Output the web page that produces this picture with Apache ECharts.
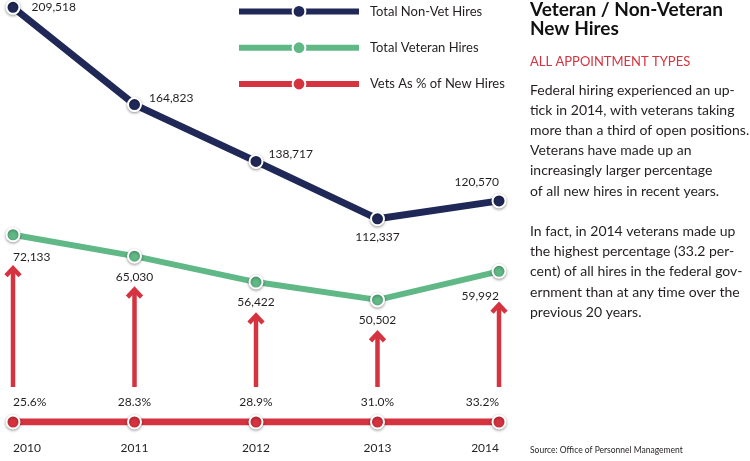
<!DOCTYPE html>
<html><head><meta charset="utf-8">
<script src="https://cdn.jsdelivr.net/npm/echarts@6/dist/echarts.min.js"></script>
<style>html,body{margin:0;padding:0;background:#fff}#c{width:750px;height:461px}</style>
</head><body><div id="c"></div>
<script>
const years = ['2010', '2011', '2012', '2013', '2014'];
const nonVetHires = [209518, 164823, 138717, 112337, 120570];
const vetHires = [72133, 65030, 56422, 50502, 59992];
const vetPct = [25.6, 28.3, 28.9, 31.0, 33.2];
const seriesNames = ['Total Non-Vet Hires', 'Total Veteran Hires', 'Vets As % of New Hires'];
const titleLines = ['Veteran / Non-Veteran', 'New Hires'];
const subtitle = 'ALL APPOINTMENT TYPES';
const bodyLines = [
  'Federal hiring experienced an up-',
  'tick in 2014, with veterans taking',
  'more than a third of open positions.',
  'Veterans have made up an',
  'increasingly larger percentage',
  'of all new hires in recent years.',
  '',
  'In fact, in 2014 veterans made up',
  'the highest percentage (33.2 per-',
  'cent) of all hires in the federal gov-',
  'ernment than at any time over the',
  'previous 20 years.'
];
const sourceText = 'Source: Office of Personnel Management';

const NAVY = '#1f2857', GREEN = '#60b886', RED = '#d5333f', TXT = '#231f20';
const FONT = 'Lato';
const fmt = v => v.toLocaleString('en-US');
const markerStyle = c => ({color: c, borderColor: '#fff', borderWidth: 2, shadowBlur: 3, shadowColor: 'rgba(0,0,0,0.35)', shadowOffsetY: 1});
const lbl = {color: TXT, fontFamily: FONT, fontSize: 12};

const navyLabelCfg = [
  {position: 'right', distance: 11},
  {position: 'right', distance: 7, offset: [0, -6]},
  {position: 'right', distance: 5, offset: [0, -7]},
  {position: 'bottom', distance: 5},
  {position: 'top', distance: 5, align: 'right'}
];
const greenLabelCfg = [
  {align: 'left', offset: [0, 2]}, {}, {}, {}, {align: 'right', offset: [0, 4]}
];
const redLabelCfg = [{align: 'left'}, {}, {}, {}, {align: 'right'}];

const chart = echarts.init(document.getElementById('c'));
chart.setOption({
  animation: false,
  backgroundColor: '#fff',
  textStyle: {fontFamily: FONT},
  grid: {left: 13, right: 251, top: 0, bottom: 39, containLabel: false},
  legend: {
    data: seriesNames, orient: 'vertical', left: 236, top: 4, padding: 0,
    itemWidth: 120, itemHeight: 16, itemGap: 21.5,
    lineStyle: {width: 6},
    textStyle: {color: TXT, fontFamily: FONT, fontSize: 13, padding: [0, 0, 0, 6]},
    selectedMode: false
  },
  xAxis: {
    type: 'category', data: years, boundaryGap: false,
    axisLine: {show: false}, axisTick: {show: false}, splitLine: {show: false},
    axisLabel: {color: TXT, fontFamily: FONT, fontSize: 12, margin: 20, alignMinLabel: 'left', alignMaxLabel: 'right'}
  },
  yAxis: [
    {type: 'value', min: 18940, max: 212900, show: false, splitLine: {show: false}},
    {type: 'value', min: 9960, max: 150070, show: false, splitLine: {show: false}},
    {type: 'value', min: 0, max: 1, show: false, splitLine: {show: false}}
  ],
  graphic: [
    {type: 'text', left: 530, top: 0, style: {text: titleLines.join('\n'), font: 'bold 19px Lato', fill: '#111', lineHeight: 19}},
    {type: 'text', left: 530, top: 55, style: {text: subtitle, font: '13px Lato', fill: RED, lineHeight: 14}},
    {type: 'text', left: 530, top: 80, style: {text: bodyLines.join('\n'), font: '14px Lato', fill: TXT, lineHeight: 20.2}},
    {type: 'text', left: 530, top: 445, style: {text: sourceText, font: '8.5px Lato', fill: TXT, lineHeight: 10}}
  ],
  series: [
    {
      type: 'custom', name: 'arrows', xAxisIndex: 0, yAxisIndex: 1, silent: true, z: 1,
      data: vetHires.map((v, i) => [i, v]),
      renderItem(params, api) {
        const top = api.coord([api.value(0), api.value(1)]);
        const cs = params.coordSys;
        const baseY = cs.y + cs.height - 35;
        const tipY = top[1] + 32;
        const x = top[0];
        return {type: 'group', children: [
          {type: 'line', shape: {x1: x, y1: baseY, x2: x, y2: tipY + 2}, style: {stroke: RED, lineWidth: 4.5}},
          {type: 'polyline', shape: {points: [[x - 7, tipY + 9], [x, tipY + 1.5], [x + 7, tipY + 9]]}, style: {stroke: RED, lineWidth: 4.5, fill: null, lineJoin: 'miter'}}
        ]};
      }
    },
    {
      type: 'line', name: seriesNames[2], xAxisIndex: 0, yAxisIndex: 2, z: 3,
      data: vetPct.map((p, i) => ({value: 0, label: Object.assign({formatter: p.toFixed(1) + '%'}, redLabelCfg[i])})),
      symbol: 'circle', symbolSize: 13,
      lineStyle: {color: RED, width: 7},
      itemStyle: markerStyle(RED),
      label: Object.assign({show: true, position: 'top', distance: 6}, lbl)
    },
    {
      type: 'line', name: seriesNames[1], xAxisIndex: 0, yAxisIndex: 1, z: 4,
      data: vetHires.map((v, i) => ({value: v, label: greenLabelCfg[i]})),
      symbol: 'circle', symbolSize: 13,
      lineStyle: {color: GREEN, width: 6},
      itemStyle: markerStyle(GREEN),
      label: Object.assign({show: true, position: 'bottom', distance: 7, formatter: p => fmt(p.value)}, lbl)
    },
    {
      type: 'line', name: seriesNames[0], xAxisIndex: 0, yAxisIndex: 0, z: 5, clip: false,
      data: nonVetHires.map((v, i) => ({value: v, label: navyLabelCfg[i]})),
      symbol: 'circle', symbolSize: 13,
      lineStyle: {color: NAVY, width: 7},
      itemStyle: markerStyle(NAVY),
      label: Object.assign({show: true, formatter: p => fmt(p.value)}, lbl)
    }
  ]
});
</script>
</body></html>
